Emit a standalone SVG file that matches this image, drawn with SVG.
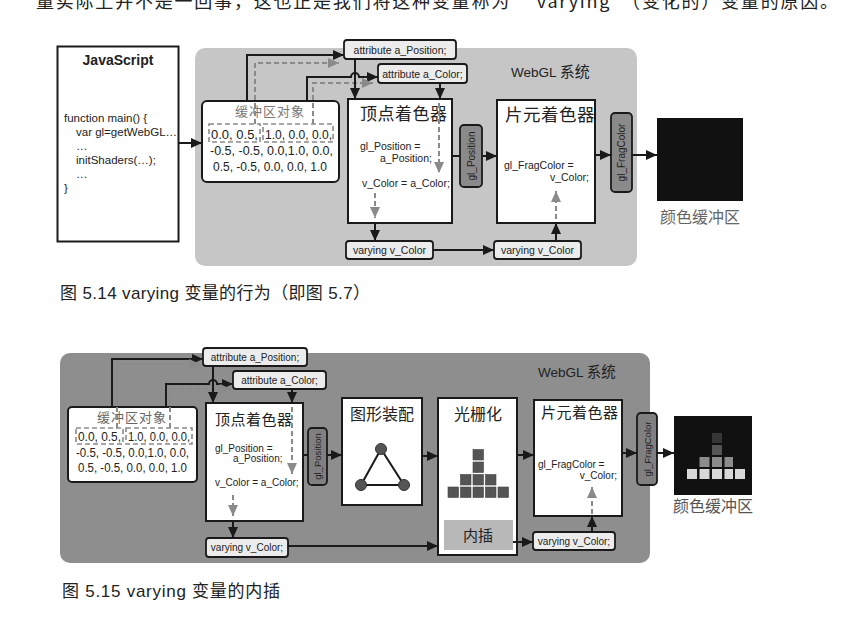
<svg xmlns="http://www.w3.org/2000/svg" width="846" height="637" viewBox="0 0 846 637">
<defs>
<style>
.t{font-family:"Liberation Sans","Noto Sans CJK SC",sans-serif;fill:#222}
.cj{font-family:"Noto Sans CJK SC","Liberation Sans",sans-serif}
.box{fill:#fff;stroke:#1a1a1a;stroke-width:2}
.attr{fill:#ececec;stroke:#1a1a1a;stroke-width:1.8}
.pill{stroke:#1a1a1a;stroke-width:1.8}
.dbox{fill:none;stroke:#8a8a8a;stroke-width:1.6;stroke-dasharray:5 3}
.ln{fill:none;stroke:#1a1a1a;stroke-width:2}
.dl{fill:none;stroke:#8a8a8a;stroke-width:2;stroke-dasharray:5 3}
.sq{fill:#555;stroke:#444;stroke-width:0.6}
</style>
<marker id="ab" markerUnits="userSpaceOnUse" markerWidth="11" markerHeight="10" refX="11" refY="5" orient="auto"><path d="M0,0 L11,5 L0,10 z" fill="#1a1a1a"/></marker>
<marker id="ag" markerUnits="userSpaceOnUse" markerWidth="11" markerHeight="10" refX="11" refY="5" orient="auto"><path d="M0,0 L11,5 L0,10 z" fill="#8a8a8a"/></marker>
</defs>
<rect width="846" height="637" fill="#fff"/>
<text class="t cj" x="36" y="8" font-size="18" fill="#333" textLength="802" lengthAdjust="spacing">量实际上并不是一回事，这也正是我们将这种变量称为 “varying”（变化的）变量的原因。</text>

<!-- ===== Figure 5.14 ===== -->
<g id="fig514">
<rect id="webgl1" x="195" y="48" width="442" height="218" rx="10" fill="#c6c6c6"/>
<text class="t" x="511" y="77" font-size="13.5" fill="#333">WebGL <tspan class="cj" font-size="15">系统</tspan></text>

<g id="js1">
<rect class="box" x="57.5" y="46.5" width="121" height="195" stroke-width="2.5"/>
<text class="t" x="118" y="65" font-size="14" font-weight="bold" text-anchor="middle">JavaScript</text>
<text class="t" x="64" y="122" font-size="11.5">function main() {</text>
<text class="t" x="76" y="136" font-size="11.5">var gl=getWebGL…</text>
<text class="t" x="76" y="150" font-size="11.5">…</text>
<text class="t" x="76" y="164" font-size="11.5">initShaders(…);</text>
<text class="t" x="76" y="178" font-size="11.5">…</text>
<text class="t" x="64" y="192" font-size="11.5">}</text>
</g>

<g id="buf1">
<rect class="box" x="202" y="101" width="137" height="81" rx="5"/>
<text class="cj" x="270" y="116" font-size="13" fill="#777" text-anchor="middle" letter-spacing="1">缓冲区对象</text>
<rect class="dbox" x="209" y="124" width="51" height="18"/>
<rect class="dbox" x="263" y="124" width="70" height="18"/>
<text class="t" x="211" y="138.5" font-size="12.5" textLength="47" lengthAdjust="spacingAndGlyphs">0.0,  0.5,</text>
<text class="t" x="265" y="138.5" font-size="12.5" textLength="67" lengthAdjust="spacingAndGlyphs">1.0, 0.0, 0.0,</text>
<text class="t" x="210" y="154.5" font-size="12.5" textLength="123" lengthAdjust="spacingAndGlyphs">-0.5, -0.5,  0.0,1.0,  0.0,</text>
<text class="t" x="213" y="170.5" font-size="12.5" textLength="114" lengthAdjust="spacingAndGlyphs">0.5, -0.5,  0.0, 0.0, 1.0</text>
</g>

<g id="apos1">
<rect class="attr" x="344" y="40" width="112" height="19" rx="3"/>
<text class="t" x="400" y="53.5" font-size="10.5" text-anchor="middle">attribute a_Position;</text>
</g>
<g id="acol1">
<rect class="attr" x="378" y="64" width="89" height="19" rx="3"/>
<text class="t" x="422.5" y="77.5" font-size="10.5" text-anchor="middle">attribute a_Color;</text>
</g>

<g id="vs1">
<rect class="box" x="348" y="99" width="104" height="124"/>
<text class="cj" x="360" y="120" font-size="17" fill="#222" letter-spacing="0.5">顶点着色器</text>
<text class="t" x="360" y="150" font-size="10.5">gl_Position =</text>
<text class="t" x="380" y="162" font-size="10.5">a_Position;</text>
<text class="t" x="362" y="187" font-size="10.5">v_Color = a_Color;</text>
</g>

<g id="glpos1">
<rect class="pill" x="460" y="125" width="22" height="62" rx="4" fill="#8a8a8a"/>
<text class="t" transform="translate(474.5,156) rotate(-90)" font-size="10" text-anchor="middle">gl_Position</text>
</g>

<g id="fs1">
<rect class="box" x="497" y="100" width="98" height="123"/>
<text class="cj" x="505" y="121" font-size="17.5" fill="#222" letter-spacing="0.5">片元着色器</text>
<text class="t" x="504" y="169" font-size="10.5">gl_FragColor =</text>
<text class="t" x="589" y="181" font-size="10.5" text-anchor="end">v_Color;</text>
</g>

<g id="frag1">
<rect class="pill" x="611" y="113" width="21" height="79" rx="4" fill="#8a8a8a"/>
<text class="t" transform="translate(625,152.5) rotate(-90)" font-size="10" text-anchor="middle">gl_FragColor</text>
</g>

<g id="cb1">
<rect x="657" y="118" width="86" height="83" fill="#111"/>
<text class="cj" x="700" y="223" font-size="16" fill="#666" text-anchor="middle">颜色缓冲区</text>
</g>

<g id="vary1a">
<rect class="attr" x="346" y="241" width="87" height="18" rx="3"/>
<text class="t" x="389.5" y="254" font-size="10.5" text-anchor="middle">varying v_Color</text>
</g>
<g id="vary1b">
<rect class="attr" x="494" y="241" width="87" height="18" rx="3"/>
<text class="t" x="537.5" y="254" font-size="10.5" text-anchor="middle">varying v_Color</text>
</g>

<g id="conn1">
<path class="ln" d="M179,143 H202" marker-end="url(#ab)"/>
<path class="ln" d="M247,101 V55 H344" marker-end="url(#ab)"/>
<path class="dl" d="M255,124 V63 H339" marker-end="url(#ag)"/>
<path class="ln" d="M307,101 V77 H351 a4,4 0 0 1 8,0 H378" marker-end="url(#ab)"/>
<path class="dl" d="M313,124 V83 H373" marker-end="url(#ag)"/>
<path class="ln" d="M355,59 V99" marker-end="url(#ab)"/>
<path class="ln" d="M440,83 V99" marker-end="url(#ab)"/>
<path class="dl" d="M439,103 V173" marker-end="url(#ag)"/>
<path class="dl" d="M375,193 V218" marker-end="url(#ag)"/>
<path class="ln" d="M375,223 V241" marker-end="url(#ab)"/>
<path class="ln" d="M433,250 H494" marker-end="url(#ab)"/>
<path class="ln" d="M556,241 V223" marker-end="url(#ab)"/>
<path class="dl" d="M556,219 V191" marker-end="url(#ag)"/>
<path class="ln" d="M452,156 H460"/>
<path class="ln" d="M482,156 H497" marker-end="url(#ab)"/>
<path class="ln" d="M595,155 H611" marker-end="url(#ab)"/>
<path class="ln" d="M632,155 H657" marker-end="url(#ab)"/>
</g>
</g>

<text class="t" x="60" y="299" font-size="17" fill="#333" textLength="310" lengthAdjust="spacing">图 5.14  varying 变量的行为（即图 5.7）</text>

<!-- ===== Figure 5.15 ===== -->
<g id="fig515">
<rect id="webgl2" x="60" y="353" width="590" height="210" rx="10" fill="#8e8e8e"/>
<text class="t" x="538" y="377" font-size="13.5" fill="#222">WebGL <tspan class="cj" font-size="14.5">系统</tspan></text>

<g id="buf2">
<rect class="box" x="68" y="407" width="129" height="75" rx="4"/>
<text class="cj" x="132" y="422" font-size="13" fill="#666" text-anchor="middle" letter-spacing="1">缓冲区对象</text>
<rect class="dbox" x="76" y="428" width="47" height="16"/>
<rect class="dbox" x="126" y="428" width="66" height="16"/>
<text class="t" x="78" y="440.5" font-size="12" textLength="43" lengthAdjust="spacingAndGlyphs">0.0,  0.5,</text>
<text class="t" x="128" y="440.5" font-size="12" textLength="62" lengthAdjust="spacingAndGlyphs">1.0, 0.0, 0.0,</text>
<text class="t" x="76" y="456.5" font-size="12" textLength="113" lengthAdjust="spacingAndGlyphs">-0.5, -0.5,  0.0,1.0,  0.0,</text>
<text class="t" x="78" y="471.5" font-size="12" textLength="109" lengthAdjust="spacingAndGlyphs">0.5, -0.5,  0.0, 0.0, 1.0</text>
</g>

<g id="apos2">
<rect class="attr" x="203" y="348" width="104" height="18" rx="3"/>
<text class="t" x="255" y="361" font-size="10" text-anchor="middle">attribute a_Position;</text>
</g>
<g id="acol2">
<rect class="attr" x="233" y="371" width="93" height="18" rx="3"/>
<text class="t" x="279.5" y="384" font-size="10" text-anchor="middle">attribute a_Color;</text>
</g>

<g id="vs2">
<rect class="box" x="206" y="403" width="97" height="118"/>
<text class="cj" x="215" y="425" font-size="15" fill="#222" letter-spacing="0.5">顶点着色器</text>
<text class="t" x="215" y="452" font-size="10">gl_Position =</text>
<text class="t" x="233" y="462" font-size="10">a_Position;</text>
<text class="t" x="215" y="486" font-size="10">v_Color =  a_Color;</text>
</g>

<g id="glpos2">
<rect class="pill" x="308" y="428" width="19" height="57" rx="4" fill="#808080"/>
<text class="t" transform="translate(321,456.5) rotate(-90)" font-size="9.5" text-anchor="middle">gl_Position</text>
</g>

<g id="asm2">
<rect class="box" x="342" y="398" width="80" height="107"/>
<text class="cj" x="382" y="420" font-size="16" fill="#222" text-anchor="middle">图形装配</text>
<polygon points="381,449 361,485 404,485" fill="none" stroke="#1a1a1a" stroke-width="2"/>
<circle cx="381" cy="449" r="5.5" fill="#555" stroke="#333"/>
<circle cx="361" cy="485" r="5.5" fill="#555" stroke="#333"/>
<circle cx="404" cy="485" r="5.5" fill="#555" stroke="#333"/>
</g>

<g id="ras2">
<rect class="box" x="438" y="398" width="79" height="157"/>
<text class="cj" x="478" y="420" font-size="16" fill="#222" text-anchor="middle">光栅化</text>
<rect class="sq" x="448" y="487" width="10.5" height="10.5"/>
<rect class="sq" x="460.5" y="487" width="10.5" height="10.5"/>
<rect class="sq" x="473" y="487" width="10.5" height="10.5"/>
<rect class="sq" x="485.5" y="487" width="10.5" height="10.5"/>
<rect class="sq" x="498" y="487" width="10.5" height="10.5"/>
<rect class="sq" x="460.5" y="474.5" width="10.5" height="10.5"/>
<rect class="sq" x="473" y="474.5" width="10.5" height="10.5"/>
<rect class="sq" x="485.5" y="474.5" width="10.5" height="10.5"/>
<rect class="sq" x="473" y="462" width="10.5" height="10.5"/>
<rect class="sq" x="473" y="449.5" width="10.5" height="10.5"/>
<rect x="444" y="520" width="69" height="30" fill="#b8b8b8"/>
<text class="cj" x="478" y="541" font-size="15" fill="#222" text-anchor="middle">内插</text>
</g>

<g id="fs2">
<rect class="box" x="534" y="400" width="88" height="116"/>
<text class="cj" x="541" y="418" font-size="15" fill="#222" letter-spacing="0.5">片元着色器</text>
<text class="t" x="538" y="468" font-size="10">gl_FragColor =</text>
<text class="t" x="617" y="479" font-size="10" text-anchor="end">v_Color;</text>
</g>

<g id="frag2">
<rect class="pill" x="637" y="413" width="20" height="72" rx="4" fill="#808080"/>
<text class="t" transform="translate(650.5,449) rotate(-90)" font-size="9.5" text-anchor="middle">gl_FragColor</text>
</g>

<g id="cb2">
<rect x="674" y="416" width="78" height="79" fill="#111"/>
<rect x="687" y="469" width="10" height="10" fill="#d8d8d8"/>
<rect x="699.5" y="469" width="10" height="10" fill="#d8d8d8"/>
<rect x="712" y="469" width="10" height="10" fill="#d8d8d8"/>
<rect x="724.5" y="469" width="8.5" height="10" fill="#d8d8d8"/>
<rect x="735" y="469" width="10" height="10" fill="#d8d8d8"/>
<rect x="699.5" y="457" width="10" height="10" fill="#8c8c8c"/>
<rect x="712" y="457" width="10" height="10" fill="#8c8c8c"/>
<rect x="724.5" y="457" width="8.5" height="10" fill="#8c8c8c"/>
<rect x="712" y="445" width="10" height="10" fill="#555"/>
<rect x="712" y="433" width="10" height="10" fill="#363636"/>
<text class="cj" x="713" y="512" font-size="16" fill="#555" text-anchor="middle">颜色缓冲区</text>
</g>

<g id="vary2a">
<rect class="attr" x="206" y="538" width="82" height="19" rx="3"/>
<text class="t" x="247" y="551" font-size="10" text-anchor="middle">varying v_Color;</text>
</g>
<g id="vary2b">
<rect class="attr" x="533" y="532" width="82" height="18" rx="3"/>
<text class="t" x="574" y="545" font-size="10" text-anchor="middle">varying v_Color;</text>
</g>

<g id="conn2">
<path class="ln" d="M112,407 V359 H203" marker-end="url(#ab)"/>
<path class="dl" d="M117,428 V364 H200" marker-end="url(#ag)"/>
<path class="ln" d="M166,407 V384 H209 a4,4 0 0 1 8,0 H233" marker-end="url(#ab)"/>
<path class="dl" d="M170,428 V389 H231" marker-end="url(#ag)"/>
<path class="ln" d="M213,366 V403" marker-end="url(#ab)"/>
<path class="ln" d="M292,389 V403" marker-end="url(#ab)"/>
<path class="dl" d="M292,407 V474" marker-end="url(#ag)"/>
<path class="dl" d="M233,495 V516" marker-end="url(#ag)"/>
<path class="ln" d="M233,521 V538" marker-end="url(#ab)"/>
<path class="ln" d="M288,546 H438" marker-end="url(#ab)"/>
<path class="ln" d="M303,455 H308"/>
<path class="ln" d="M327,455 H342" marker-end="url(#ab)"/>
<path class="ln" d="M422,456 H438" marker-end="url(#ab)"/>
<path class="ln" d="M517,455 H534" marker-end="url(#ab)"/>
<path class="ln" d="M513,542 H533" marker-end="url(#ab)"/>
<path class="ln" d="M592,532 V516" marker-end="url(#ab)"/>
<path class="dl" d="M592,514 V487" marker-end="url(#ag)"/>
<path class="ln" d="M622,453 H637" marker-end="url(#ab)"/>
<path class="ln" d="M657,453 H674" marker-end="url(#ab)"/>
</g>
</g>

<text class="t" x="62" y="597" font-size="17" fill="#333" textLength="218" lengthAdjust="spacing">图 5.15  varying 变量的内插</text>
</svg>
